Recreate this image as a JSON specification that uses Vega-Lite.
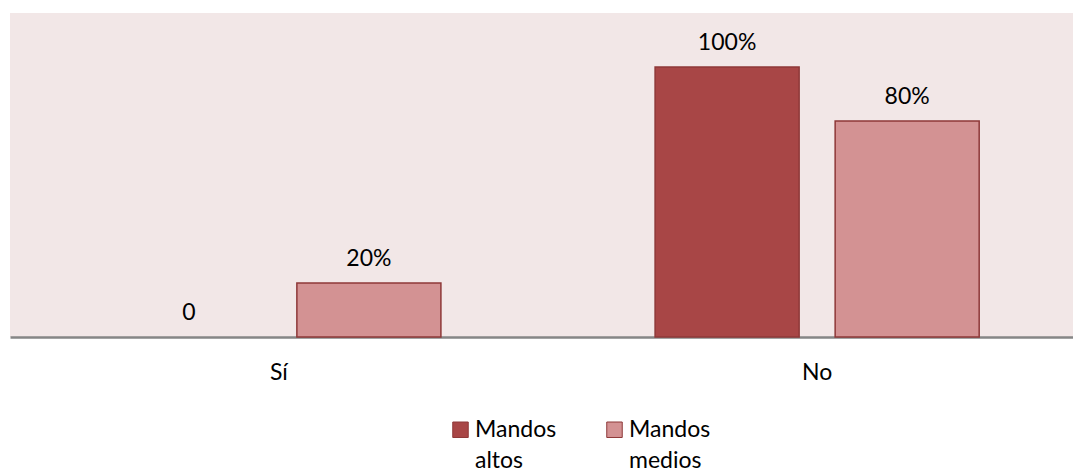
{
  "$schema": "https://vega.github.io/schema/vega-lite/v6.json",
  "width": 1076,
  "height": 324,
  "padding": {"left": 10, "top": 13, "right": 0, "bottom": 0},
  "background": "white",
  "config": {
    "view": {"fill": "#F2E7E7", "stroke": null},
    "font": "Lato"
  },
  "data": {
    "values": [
      {"respuesta": "Sí", "serie": "Mandos altos", "valor": 0, "etiqueta": "0"},
      {"respuesta": "Sí", "serie": "Mandos medios", "valor": 0.2, "etiqueta": "20%"},
      {"respuesta": "No", "serie": "Mandos altos", "valor": 1.0, "etiqueta": "100%"},
      {"respuesta": "No", "serie": "Mandos medios", "valor": 0.8, "etiqueta": "80%"}
    ]
  },
  "encoding": {
    "x": {
      "field": "respuesta", "type": "nominal", "sort": ["Sí", "No"],
      "scale": {"paddingInner": 0.331, "paddingOuter": 0.165},
      "axis": {"title": null, "labelAngle": 0, "labelFontSize": 23, "labelColor": "#000000", "labelPadding": 24, "ticks": false, "domainColor": "#868686", "domainWidth": 2.5}
    },
    "xOffset": {
      "field": "serie", "type": "nominal", "sort": ["Mandos altos", "Mandos medios"],
      "scale": {"paddingInner": 0.2, "paddingOuter": 0.1}
    },
    "y": {
      "field": "valor", "type": "quantitative",
      "scale": {"domain": [0, 1.2], "nice": false},
      "axis": null
    }
  },
  "layer": [
    {
      "mark": {"type": "bar", "stroke": "#8E3838", "strokeWidth": 1.5},
      "encoding": {
        "strokeOpacity": {"condition": {"test": "datum.valor == 0", "value": 0}, "value": 1},
        "color": {
          "field": "serie", "type": "nominal", "sort": ["Mandos altos", "Mandos medios"],
          "scale": {"domain": ["Mandos altos", "Mandos medios"], "range": ["#A84646", "#D39293"]},
          "legend": {
            "title": null, "orient": "none", "direction": "horizontal",
            "legendX": 439, "legendY": 405,
            "symbolType": "square", "symbolSize": 240, "symbolStrokeColor": "#8E3838", "symbolStrokeWidth": 1,
            "labelFontSize": 23, "labelColor": "#000000", "labelExpr": "split(datum.label, ' ')",
            "labelBaseline": "top", "labelOffset": 3, "columnPadding": 46, "symbolOffset": 0,
            "encode": {"labels": {"update": {"lineHeight": {"value": 31}, "dy": {"value": -11}}}}
          }
        }
      }
    },
    {
      "mark": {"type": "text", "fontSize": 23, "color": "#000000", "baseline": "alphabetic", "dy": -17},
      "encoding": {"text": {"field": "etiqueta"}}
    }
  ]
}
